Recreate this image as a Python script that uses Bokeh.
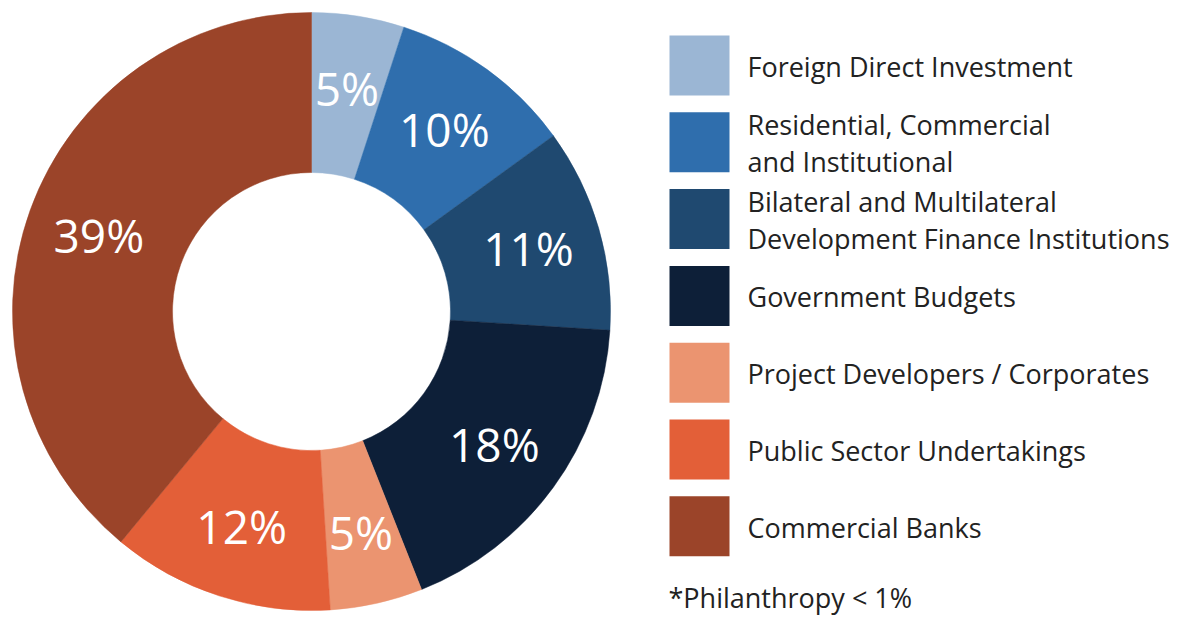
import numpy as np
from bokeh.plotting import figure
from bokeh.models import Range1d, ColumnDataSource
from bokeh.core.properties import value
from bokeh.embed import file_html
from bokeh.resources import INLINE

categories = [
    "Foreign Direct Investment",
    "Residential, Commercial\nand Institutional",
    "Bilateral and Multilateral\nDevelopment Finance Institutions",
    "Government Budgets",
    "Project Developers / Corporates",
    "Public Sector Undertakings",
    "Commercial Banks",
]
shares = [5, 10, 11, 18, 5, 12, 39]
colors = ["#9bb6d4", "#2f6ead", "#1f4970", "#0d1f38", "#eb9470", "#e35f38", "#9b4429"]
footnote = "*Philanthropy < 1%"

W, H = 1179, 615
FONT = "Open Sans"

def px(x, y):
    # screenshot pixel -> data coords
    return x, H - y

p = figure(width=W, height=H, output_backend="svg", toolbar_location=None,
           x_range=Range1d(0, W), y_range=Range1d(0, H), min_border=0)
p.axis.visible = False
p.grid.visible = False
p.outline_line_color = None
p.background_fill_color = "white"

vals = np.array(shares, dtype=float)
frac = vals / vals.sum()
cum_end = np.cumsum(frac)
cum_start = cum_end - frac
start_ang = np.pi / 2 - 2 * np.pi * cum_start
end_ang = np.pi / 2 - 2 * np.pi * cum_end

cx, cy = px(311, 311)
r_out, r_in = 299, 139

src = ColumnDataSource(dict(x=[cx] * len(vals), y=[cy] * len(vals),
                            start=start_ang, end=end_ang, color=colors))
p.annular_wedge(x="x", y="y", inner_radius=r_in, outer_radius=r_out,
                start_angle="start", end_angle="end", direction="clock",
                fill_color="color", line_color="color", line_width=0.5, source=src)

mid = (start_ang + end_ang) / 2
r_lab = 226
lx = cx + r_lab * np.cos(mid)
ly = cy + r_lab * np.sin(mid)
p.text(x=lx, y=ly, text=[f"{v}%" for v in shares], text_color="white",
       text_font=value(FONT), text_font_size="46px", text_font_style="normal",
       text_align="center", text_baseline="middle")

# legend
sw = 60
step = 76.8
tx, ty, tt = [], [], []
sx, sy = [], []
for i, lab in enumerate(categories):
    cyp = 65 + i * step
    x0, y0 = px(699, cyp)
    sx.append(x0)
    sy.append(y0)
    lines = lab.split("\n")
    n = len(lines)
    for j, ln in enumerate(lines):
        off = (j - (n - 1) / 2) * 37
        tx.append(747)
        ty.append(px(0, cyp + off + 1)[1])
        tt.append(ln)
p.rect(x=sx, y=sy, width=sw, height=sw, fill_color=colors, line_color=None)
p.text(x=tx, y=ty, text=tt, text_color="#222222", text_font=value(FONT),
       text_font_size="27px", text_align="left", text_baseline="middle")

fx, fy = px(668, 597)
p.text(x=[fx], y=[fy], text=[footnote], text_color="#222222", text_font=value(FONT),
       text_font_size="27px", text_align="left", text_baseline="middle")

open("out.html", "w").write(file_html(p, INLINE))
